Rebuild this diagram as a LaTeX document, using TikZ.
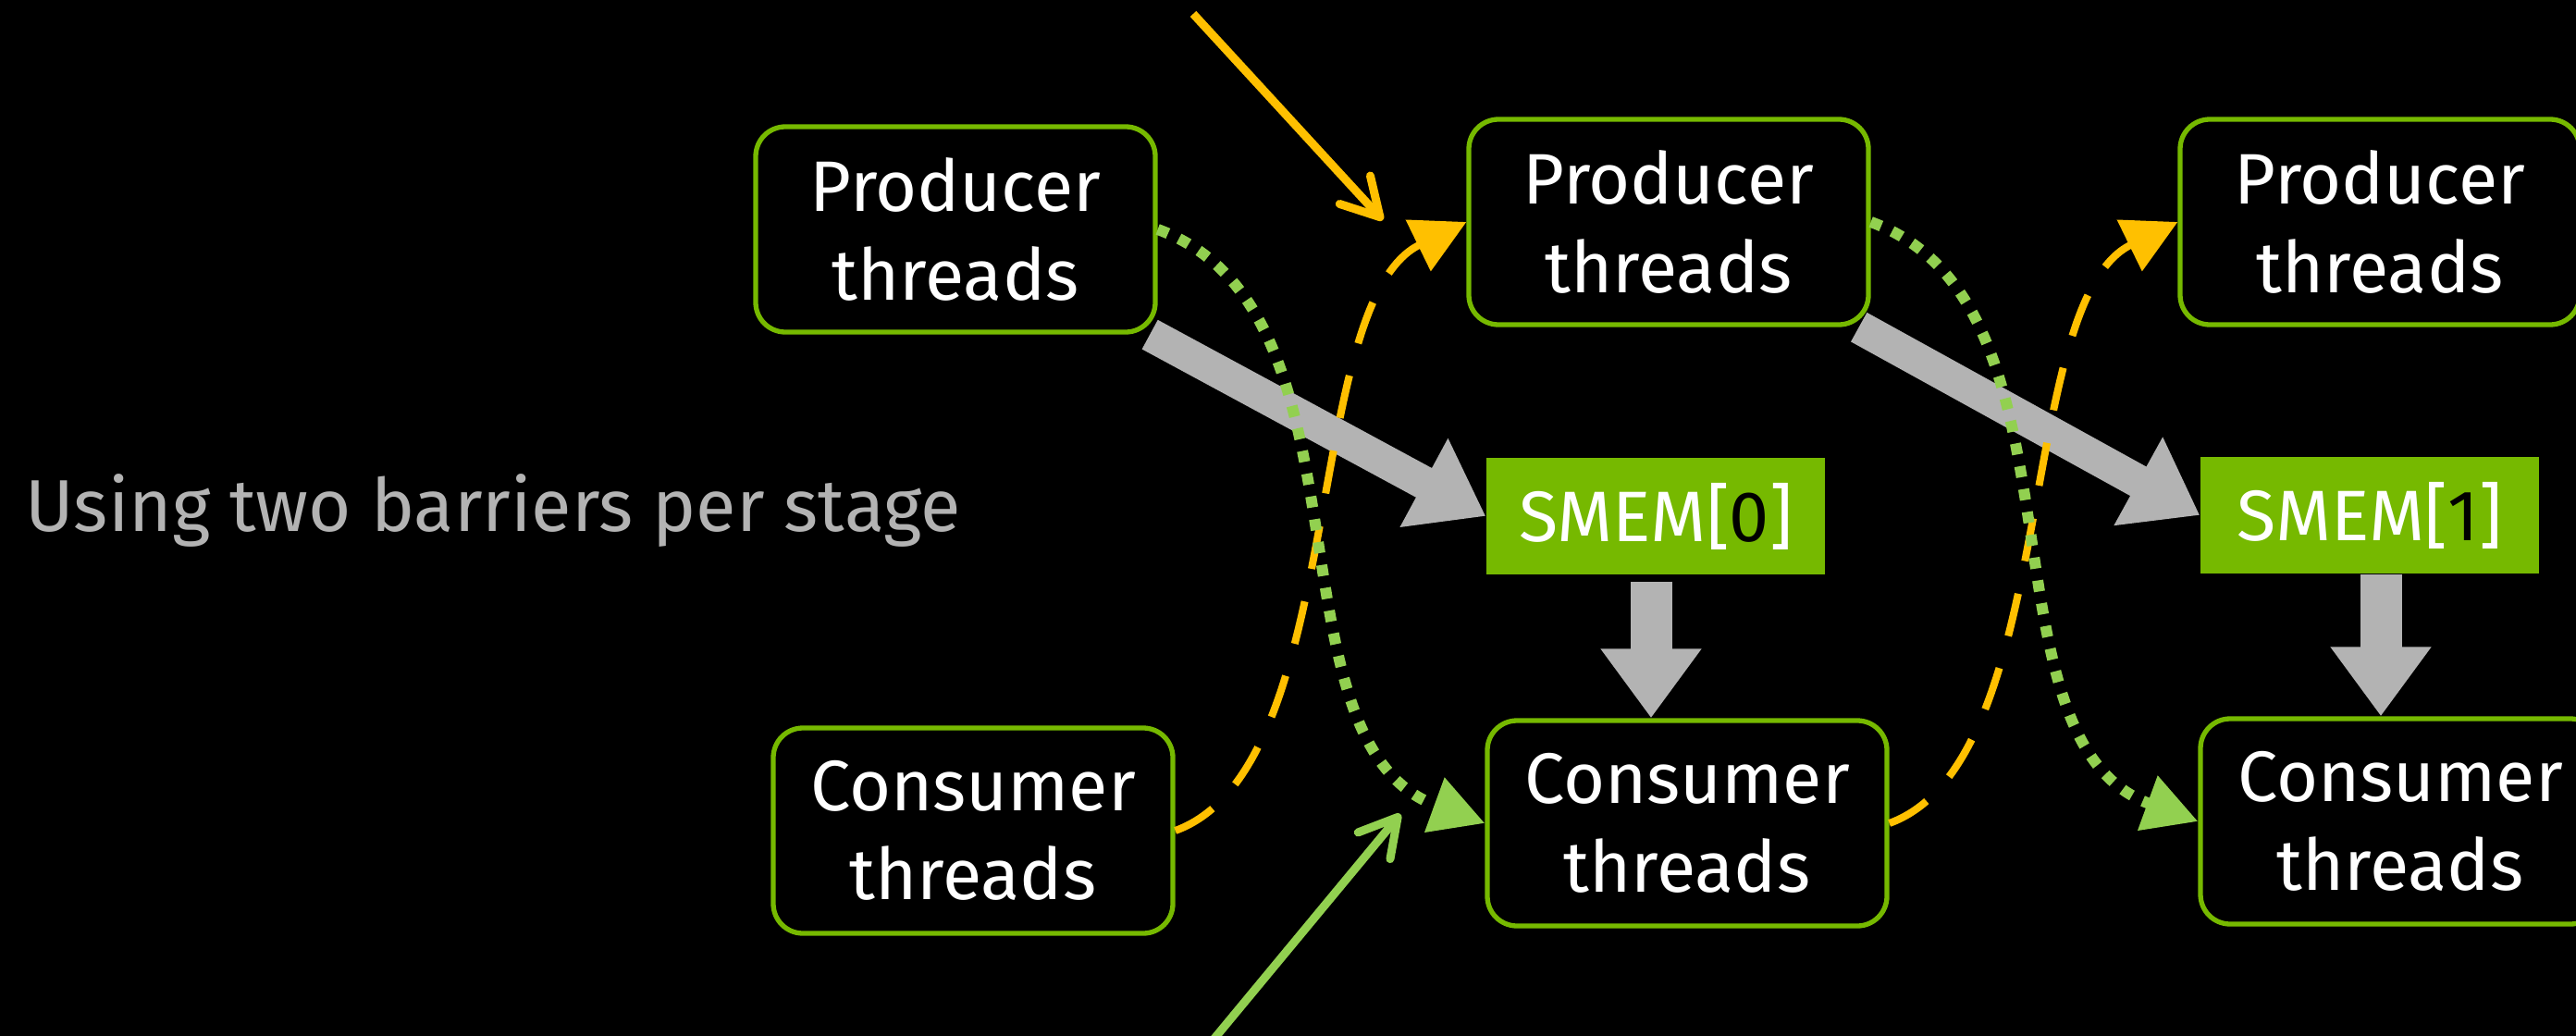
\documentclass[tikz,border=0pt]{standalone}
\usepackage{fontspec}
\setmainfont{Fira Sans}
\usetikzlibrary{arrows.meta}
\definecolor{nvgreen}{HTML}{76B900}
\definecolor{ltgreen}{HTML}{92D050}
\definecolor{amber}{HTML}{FFC000}
\definecolor{lightgrey}{HTML}{B3B3B3}

\begin{document}
\begin{tikzpicture}[>=Latex,
  thr/.style={rectangle, rounded corners=0.32cm, draw=nvgreen, line width=0.053cm, fill=black, text=white, align=center, minimum width=4.32cm, minimum height=2.22cm, inner sep=0pt, font=\fontsize{22}{27.3}\selectfont},
  smem/.style={rectangle, fill=nvgreen, text=white, minimum width=3.66cm, minimum height=1.26cm, inner sep=0pt, font=\fontsize{22}{27.3}\selectfont},
  flow/.style={line width=0.36cm, draw=lightgrey, -{Triangle[width=1.04cm, length=0.76cm]}},
  drop/.style={line width=0.45cm, draw=lightgrey, -{Triangle[width=1.04cm, length=0.75cm]}},
  emptybar/.style={draw=amber, line width=0.08cm, dash pattern=on 0.47cm off 0.36cm, -{Triangle[width=0.6cm, length=0.58cm]}},
  fullbar/.style={draw=ltgreen, line width=0.12cm, dash pattern=on 0.12cm off 0.13cm, -{Triangle[width=0.6cm, length=0.58cm]}},
  pointer/.style={line width=0.09cm, -{Straight Barb[width=0.45cm, length=0.4cm, round]}}
]
\useasboundingbox (0,0) rectangle (27.85,-11.2);
\fill[black] (0,0) rectangle (27.85,-11.2);
\node[anchor=west, inner sep=0pt, text=lightgrey, font=\fontsize{22.6}{27.3}\selectfont] (title) at (0.27,-5.52) {Using two barriers per stage};
\node[thr] (p1) at (10.33,-2.48) {Producer\\threads};
\node[thr] (p2) at (18.04,-2.40) {Producer\\threads};
\node[thr] (p3) at (25.73,-2.40) {Producer\\threads};
\node[smem] (s0) at (17.90,-5.58) {SMEM[\textcolor{black}{0}]};
\node[smem] (s1) at (25.62,-5.57) {SMEM[\textcolor{black}{1}]};
\node[thr] (c1) at (10.52,-8.98) {Consumer\\threads};
\node[thr] (c2) at (18.24,-8.90) {Consumer\\threads};
\node[thr] (c3) at (25.95,-8.88) {Consumer\\threads};
\coordinate (ytail) at (12.90,-0.15);
\coordinate (ytip) at (14.95,-2.38);
\coordinate (gtail) at (13.11,-11.25);
\coordinate (gtip) at (15.14,-8.80);
\draw[flow] (p1) -- (s0.west);
\draw[flow] (p2) -- (s1.west);
\draw[drop] ([xshift=-0.05cm, yshift=-0.07cm]s0.south) -- ([xshift=-0.05cm]s0.south |- c2.north);
\draw[drop] ([xshift=0.12cm]s1.south) -- ([xshift=0.12cm]s1.south |- c3.north);
\draw[emptybar] (c1.east) to[out=20, in=206, looseness=0.7] (p2.west);
\draw[emptybar] (c2.east) to[out=20, in=206, looseness=0.7] (p3.west);
\draw[fullbar] (p1.east) to[out=-20, in=160, looseness=0.9] (c2.west);
\draw[fullbar] (p2.east) to[out=-20, in=160, looseness=0.9] (c3.west);
\draw[pointer, amber] (ytail) -- (ytip);
\draw[pointer, ltgreen] (gtail) -- (gtip);
\end{tikzpicture}
\end{document}
